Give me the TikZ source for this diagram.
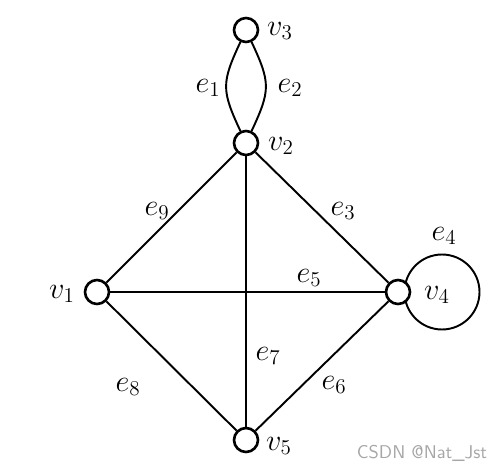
\documentclass[tikz,border=0pt]{standalone}
\usepackage{amsmath}
\usetikzlibrary{backgrounds, calc}

\begin{document}
\begin{tikzpicture}[line cap=round, line join=round,
	vert/.style={circle, draw, line width=1.5pt, fill=white, minimum size=0.48cm, inner sep=0pt},
	edge/.style={line width=1.1pt},
	lbl/.style={font=\fontsize{18}{21}\selectfont}]
	
	\useasboundingbox (0,0) rectangle (9.96,9.46);
	
	% ===============================
	% ========== VERTICES ===========
	% ===============================
	\node[vert] (v3) at (4.92,8.86) {};
	\node[vert] (v2) at (4.92,6.60) {};
	\node[vert] (v1) at (1.94,3.62) {};
	\node[vert] (v4) at (7.96,3.62) {};
	\node[vert] (v5) at (4.92,0.66) {};
	
	% ---- edges (kept behind the vertex circles) ----
	\begin{scope}[on background layer]
		% parallel edges e1, e2
		\draw[edge] (v3) to[out=-115, in=115, looseness=1.3] (v2);
		\draw[edge] (v3) to[out=-65, in=65, looseness=1.3] (v2);
		% spokes from v2
		\draw[edge] (v2) -- (v1);
		\draw[edge] (v2) -- (v4);
		\draw[edge] (v2) -- (v5);
		% horizontal and lower edges
		\draw[edge] (v1) -- (v4);
		\draw[edge] (v1) -- (v5);
		\draw[edge] (v4) -- (v5);
		% loop e4 at v4
		\draw[edge] ($(v4)+(0.88,0)$) circle (0.75);
	\end{scope}
	
	% ===============================
	% =========== LABELS ============
	% ===============================
	\node[lbl] (lv3) at (5.60,8.84) {$v_3$};
	\node[lbl] (lv2) at (5.62,6.54) {$v_2$};
	\node[lbl] (lv1) at (1.24,3.58) {$v_1$};
	\node[lbl] (lv4) at (8.74,3.56) {$v_4$};
	\node[lbl] (lv5) at (5.58,0.54) {$v_5$};
	
	\node[lbl] (le1) at (4.16,7.70) {$e_1$};
	\node[lbl] (le2) at (5.80,7.70) {$e_2$};
	\node[lbl] (le3) at (6.86,5.24) {$e_3$};
	\node[lbl] (le4) at (8.88,4.74) {$e_4$};
	\node[lbl] (le5) at (6.18,3.90) {$e_5$};
	\node[lbl] (le6) at (6.68,1.76) {$e_6$};
	\node[lbl] (le7) at (5.36,2.34) {$e_7$};
	\node[lbl] (le8) at (2.56,1.72) {$e_8$};
	\node[lbl] (le9) at (3.14,5.24) {$e_9$};
	
	% watermark
	\node[gray!70, font=\sffamily\fontsize{10.5}{12}\selectfont] (wm) at (8.44,0.40) {CSDN @Nat\_Jst};
	
\end{tikzpicture}
\end{document}
